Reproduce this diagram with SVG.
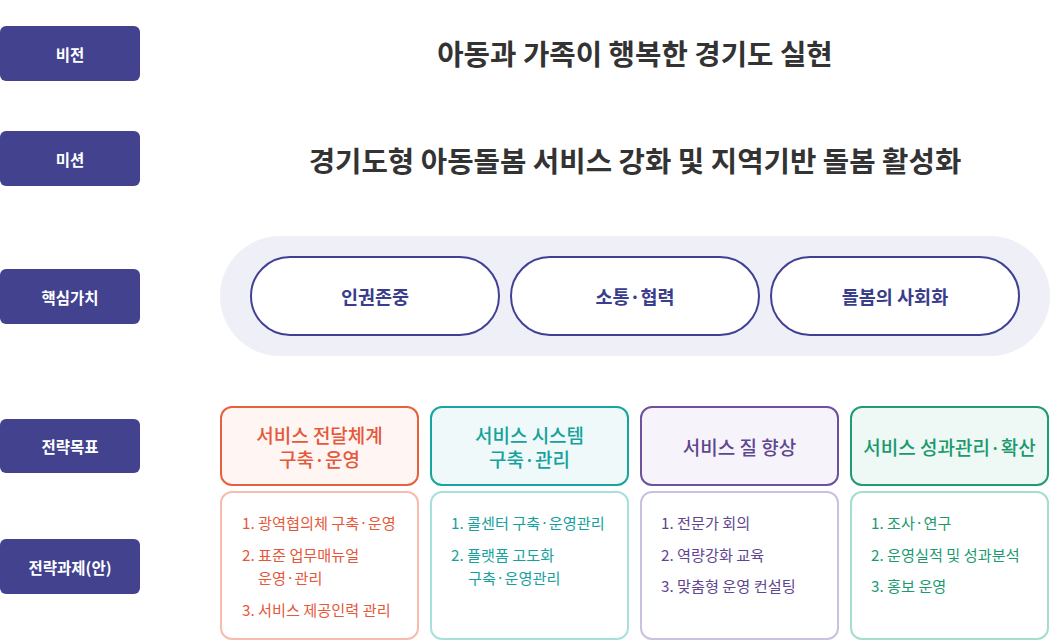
<svg xmlns="http://www.w3.org/2000/svg" width="1063" height="641" viewBox="0 0 1063 641">
<style>
text{font-family:"Noto Sans CJK KR","Noto Sans",sans-serif;dominant-baseline:central}
.lbl rect{fill:#42428f}
.lbl text{fill:#fff;font-size:15.5px;font-weight:700;text-anchor:middle}
.title{fill:#333;font-size:28.7px;font-weight:700;text-anchor:middle}
.pill rect{fill:#fff;stroke:#3f4194;stroke-width:2}
.pill text{fill:#3a3c8c;font-size:18.5px;font-weight:700;text-anchor:middle}
.hd text{font-size:19px;font-weight:500;text-anchor:middle}
.it text{font-size:15.2px;font-weight:400}
.c1 .h{fill:#fff5f3;stroke:#e8613e}.c1 .b{fill:#fff;stroke:#f7bcae}.c1 text{fill:#e5583a}
.c2 .h{fill:#eff9f9;stroke:#17a5a1}.c2 .b{fill:#fff;stroke:#a8e0de}.c2 text{fill:#15a29d}
.c3 .h{fill:#f6f4fa;stroke:#6d519c}.c3 .b{fill:#fff;stroke:#cbc0de}.c3 text{fill:#5f4690}
.c4 .h{fill:#eef8f5;stroke:#1f9c76}.c4 .b{fill:#fff;stroke:#a6ddcd}.c4 text{fill:#1a9a6e}
.h,.b{stroke-width:2}
</style>
<g id="label-vision" class="lbl"><rect x="0" y="26" width="140" height="55" rx="6"/><text x="70" y="53.5">비전</text></g>
<g id="label-mission" class="lbl"><rect x="0" y="131" width="140" height="55" rx="6"/><text x="70" y="158.5">미션</text></g>
<g id="label-values" class="lbl"><rect x="0" y="269" width="140" height="55" rx="6"/><text x="70" y="296.5">핵심가치</text></g>
<g id="label-goals" class="lbl"><rect x="0" y="419" width="140" height="54" rx="6"/><text x="70" y="446">전략목표</text></g>
<g id="label-tasks" class="lbl"><rect x="0" y="539" width="140" height="55" rx="6"/><text x="70" y="566.5">전략과제(안)</text></g>

<g id="vision"><text class="title" x="635" y="52">아동과 가족이 행복한 경기도 실현</text></g>
<g id="mission"><text class="title" x="635" y="159">경기도형 아동돌봄 서비스 강화 및 지역기반 돌봄 활성화</text></g>

<g id="values-bg"><rect x="220" y="236" width="830" height="120" rx="60" fill="#efeff7"/></g>
<g id="value-1" class="pill"><rect x="251" y="257" width="248" height="78" rx="39"/><text x="375" y="296">인권존중</text></g>
<g id="value-2" class="pill"><rect x="511" y="257" width="248" height="78" rx="39"/><text x="635" y="296">소통·협력</text></g>
<g id="value-3" class="pill"><rect x="771" y="257" width="248" height="78" rx="39"/><text x="895" y="296">돌봄의 사회화</text></g>

<g id="goal-1" class="c1">
<rect class="h" x="221" y="407" width="197" height="78" rx="11"/>
<g class="hd"><text x="319.5" y="434">서비스 전달체계<tspan x="319.5" dy="24">구축·운영</tspan></text></g>
<rect class="b" x="221" y="492" width="197" height="147" rx="11"/>
<g class="it"><text x="242" y="522">1. 광역협의체 구축·운영</text><text x="242" y="554">2. 표준 업무매뉴얼<tspan x="258" dy="23">운영·관리</tspan></text><text x="242" y="609">3. 서비스 제공인력 관리</text></g>
</g>
<g id="goal-2" class="c2">
<rect class="h" x="431" y="407" width="197" height="78" rx="11"/>
<g class="hd"><text x="529.5" y="434">서비스 시스템<tspan x="529.5" dy="24">구축·관리</tspan></text></g>
<rect class="b" x="431" y="492" width="197" height="147" rx="11"/>
<g class="it"><text x="451" y="522">1. 콜센터 구축·운영관리</text><text x="451" y="554">2. 플랫폼 고도화<tspan x="468" dy="23">구축·운영관리</tspan></text></g>
</g>
<g id="goal-3" class="c3">
<rect class="h" x="641" y="407" width="197" height="78" rx="11"/>
<g class="hd"><text x="739.5" y="446">서비스 질 향상</text></g>
<rect class="b" x="641" y="492" width="197" height="147" rx="11"/>
<g class="it"><text x="661" y="522">1. 전문가 회의</text><text x="661" y="554">2. 역량강화 교육</text><text x="661" y="585">3. 맞춤형 운영 컨설팅</text></g>
</g>
<g id="goal-4" class="c4">
<rect class="h" x="851" y="407" width="197" height="78" rx="11"/>
<g class="hd"><text x="949.5" y="446">서비스 성과관리·확산</text></g>
<rect class="b" x="851" y="492" width="197" height="147" rx="11"/>
<g class="it"><text x="871" y="522">1. 조사·연구</text><text x="871" y="554">2. 운영실적 및 성과분석</text><text x="871" y="585">3. 홍보 운영</text></g>
</g>
<g id="connectors"/>
</svg>
